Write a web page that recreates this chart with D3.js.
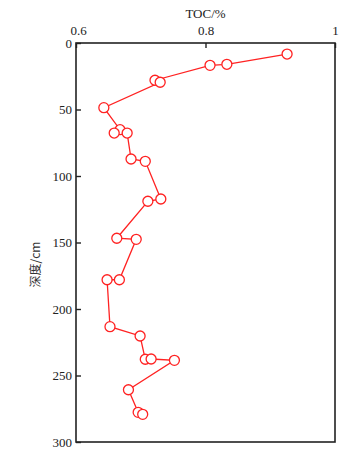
<!DOCTYPE html>
<html><head><meta charset="utf-8">
<script src="https://cdn.jsdelivr.net/npm/d3@7"></script>
<style>body{margin:0;background:#fff}svg{display:block}</style>
</head><body>
<script>
const depth = [8.3, 16, 16.8, 28, 29.5, 48.6, 65.2, 67.7, 67.7, 87.2, 89, 117.3, 119, 146.8, 147.6, 178, 178, 213.3, 220.3, 237.8, 237.6, 238.6, 260.7, 277.7, 279.2];
const toc = [0.926, 0.833, 0.807, 0.722, 0.730, 0.643, 0.668, 0.659, 0.679, 0.685, 0.707, 0.731, 0.711, 0.663, 0.693, 0.667, 0.648, 0.6525, 0.699, 0.707, 0.716, 0.752, 0.681, 0.696, 0.703];
const xTicks = [0.6, 0.8, 1];
const yTicks = [0, 50, 100, 150, 200, 250, 300];
const xTitle = "TOC/%";
const yTitle = "深度/cm";

const W = 360, H = 451;
const L = 76, R = 335, T = 43, B = 442;
const svg = d3.select("body").append("svg").attr("width", W).attr("height", H);
const x = d3.scaleLinear().domain([0.6, 1]).range([L, R]);
const y = d3.scaleLinear().domain([0, 300]).range([T, B]);
const font = "'Liberation Serif','Times New Roman',serif";

svg.append("rect").attr("x", L).attr("y", T).attr("width", R - L).attr("height", B - T)
  .attr("fill", "none").attr("stroke", "#222").attr("stroke-width", 1.6);

const xAxis = svg.append("g").attr("transform", `translate(0,${T})`)
  .call(d3.axisTop(x).tickValues(xTicks).tickSize(-5).tickPadding(9).tickFormat(d3.format("")));
const yAxis = svg.append("g").attr("transform", `translate(${L},0)`)
  .call(d3.axisLeft(y).tickValues(yTicks).tickSize(-5).tickPadding(9));
[xAxis, yAxis].forEach(a => {
  a.select(".domain").remove();
  a.selectAll("line").attr("stroke", "#222").attr("stroke-width", 1.4);
  a.selectAll("text").attr("font-family", font).attr("font-size", 13).attr("fill", "#222");
});
yAxis.selectAll("text").attr("x", -4);
xAxis.selectAll("text").attr("y", -8);
xAxis.selectAll(".tick").filter(d => d === 0.6).select("text").attr("dx", 2);

svg.append("text").attr("x", (L + R) / 2).attr("y", 18).attr("text-anchor", "middle")
  .attr("font-family", font).attr("font-size", 13).attr("fill", "#222").text(xTitle);
svg.append("text").attr("transform", `translate(40,${(T + B) / 2 + 22}) rotate(-90)`)
  .attr("text-anchor", "middle").attr("font-family", "'Noto Sans CJK SC',serif")
  .attr("font-size", 12).attr("fill", "#333").text(yTitle);

const pts = depth.map((d, i) => ({d, v: toc[i]}));
svg.append("path").datum(pts)
  .attr("d", d3.line().x(p => x(p.v)).y(p => y(p.d)))
  .attr("fill", "none").attr("stroke", "#f22").attr("stroke-width", 1.3);
svg.selectAll("circle.pt").data(pts).join("circle").attr("class", "pt")
  .attr("cx", p => x(p.v)).attr("cy", p => y(p.d)).attr("r", 5)
  .attr("fill", "#fff").attr("stroke", "#f22").attr("stroke-width", 1.3);
</script>
</body></html>
